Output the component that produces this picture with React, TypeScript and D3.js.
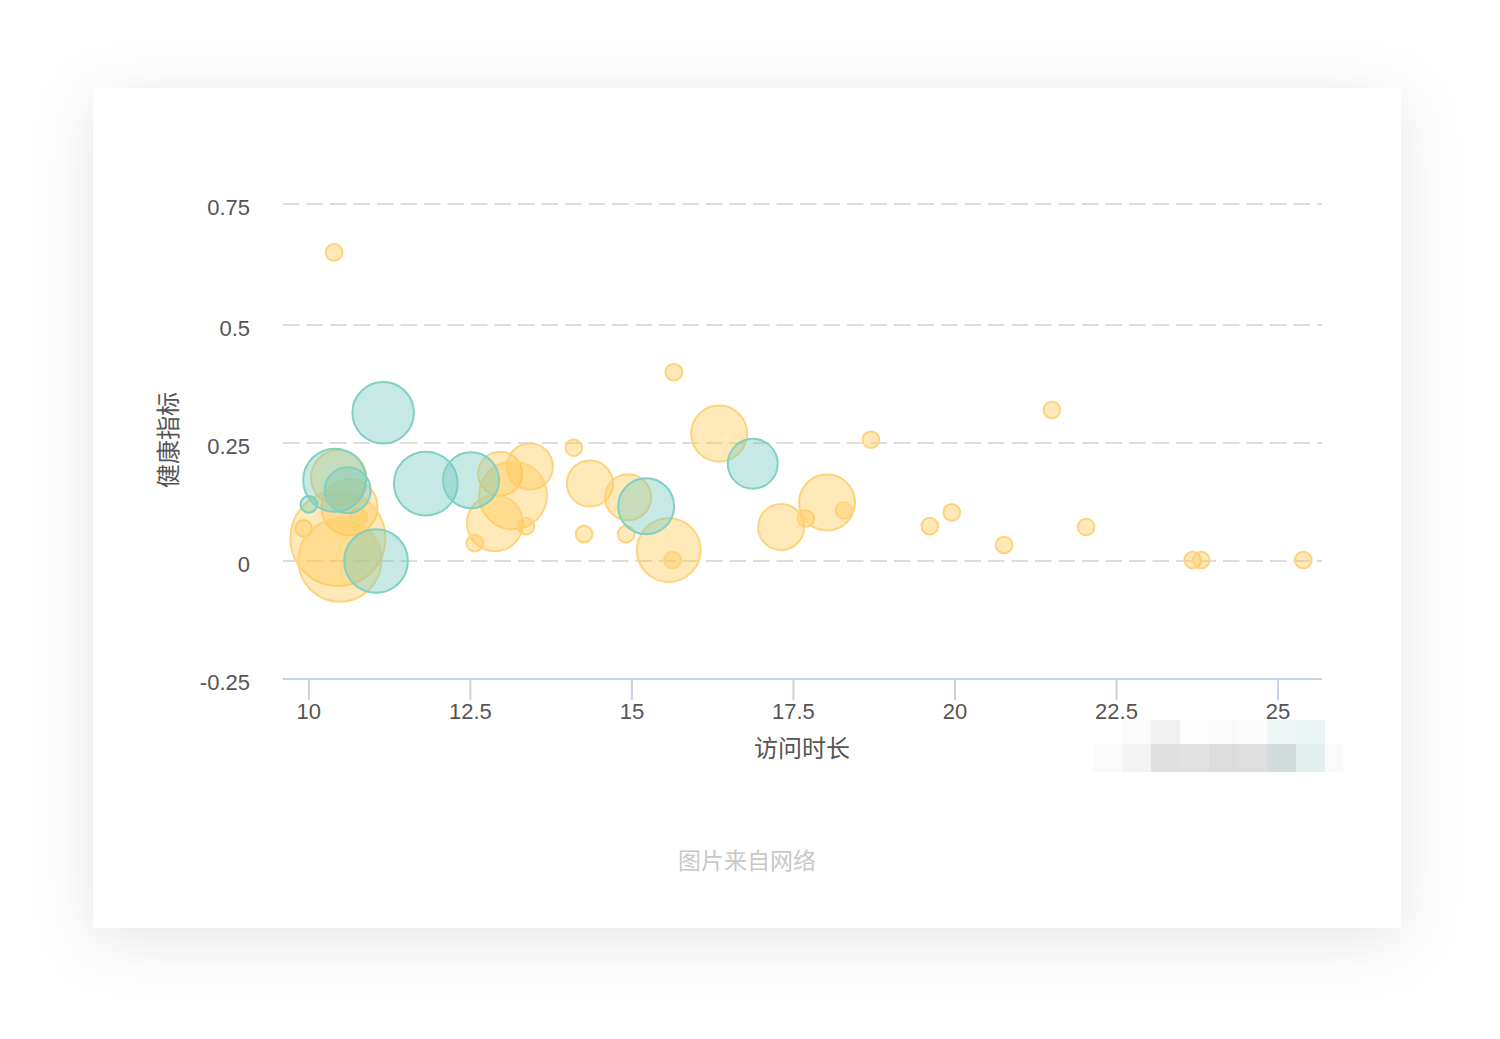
import React from 'react';
import * as d3 from 'd3';

// [访问时长, 健康指标, size]
const tealPoints: [number, number, number][] = [
  [10.0, 0.12, 3],
  [10.4, 0.171, 43],
  [10.6, 0.15, 23],
  [11.04, 0.0, 44],
  [11.15, 0.314, 41],
  [11.81, 0.164, 44],
  [12.51, 0.171, 34],
  [15.22, 0.116, 34],
  [16.87, 0.206, 27],
];

const amberPoints: [number, number, number][] = [
  [10.39, 0.65, 3],
  [10.46, 0.177, 33],
  [10.63, 0.114, 34],
  [10.77, 0.093, 3],
  [9.92, 0.069, 3],
  [10.45, 0.048, 98],
  [10.48, 0.002, 75],
  [12.96, 0.185, 21],
  [13.42, 0.2, 23],
  [13.16, 0.139, 50],
  [12.88, 0.08, 34],
  [13.36, 0.074, 3],
  [12.57, 0.038, 3],
  [14.1, 0.24, 3],
  [15.65, 0.4, 3],
  [16.35, 0.27, 34],
  [18.7, 0.257, 3],
  [14.35, 0.164, 23],
  [14.94, 0.135, 23],
  [14.26, 0.057, 3],
  [14.91, 0.057, 3],
  [15.57, 0.023, 44],
  [15.63, 0.002, 3],
  [17.31, 0.072, 23],
  [17.69, 0.09, 3],
  [18.02, 0.124, 34],
  [18.28, 0.107, 3],
  [21.5, 0.32, 3],
  [19.61, 0.074, 3],
  [19.95, 0.103, 3],
  [20.76, 0.034, 3],
  [22.03, 0.072, 3],
  [23.68, 0.002, 3],
  [23.81, 0.002, 3],
  [25.39, 0.002, 3],
];

const xTicks = [10, 12.5, 15, 17.5, 20, 22.5, 25];
const yTicks = [-0.25, 0, 0.25, 0.5, 0.75];

// pixelated patch in the lower right corner of the card
const mosaicRows = [
  ['none', '#fbfbfb', '#f1f1f1', '#fdfdfd', '#fafafa', '#fcfcfc', '#f0f7f7', '#eaf4f4', 'none'],
  ['#fafafa', '#f3f3f3', '#e0e0e0', '#e2e2e2', '#dcdcdc', '#dedede', '#d2dcdc', '#e2efee', '#fafafa'],
];

const W = 1500;
const H = 1039;
const font = '"Liberation Sans", Arial, "Noto Sans CJK SC", sans-serif';

const App: React.FC = () => {
  const x = d3.scaleLinear().domain([9.6, 25.68]).range([283, 1322]);
  const y = d3.scaleLinear().domain([-0.25, 0.5, 0.75]).range([679, 325, 204]);
  const r = d3.scaleSqrt().domain([0, 100]).range([0, 48]);

  const plotLeft = x.range()[0];
  const plotRight = x.range()[1];
  const axisY = y(-0.25);

  const bubbles = (pts: [number, number, number][], fill: string, stroke: string, key: string) =>
    pts.map((p, i) => (
      <circle
        key={`${key}-${i}`}
        cx={x(p[0])}
        cy={y(p[1])}
        r={r(p[2])}
        fill={fill}
        fillOpacity={0.4}
        stroke={stroke}
        strokeWidth={2}
      />
    ));

  return (
    <div style={{ position: 'fixed', left: 0, top: 0, width: W, height: H, background: '#fff' }}>
      <svg width={W} height={H} style={{ display: 'block' }}>
        <defs>
          <filter id="cardShadow" x="-20%" y="-20%" width="140%" height="140%">
            <feDropShadow dx="0" dy="12" stdDeviation="30" floodColor="#000" floodOpacity="0.1" />
          </filter>
        </defs>
        <rect x={93} y={88} width={1308} height={840} fill="#fff" filter="url(#cardShadow)" />

        {/* grid */}
        {yTicks.filter(t => t > -0.25).map(t => (
          <line
            key={`g${t}`}
            x1={plotLeft}
            x2={plotRight}
            y1={y(t)}
            y2={y(t)}
            stroke="#dcdcdc"
            strokeWidth={2}
            strokeDasharray="16.5,7"
          />
        ))}

        {/* y labels */}
        {yTicks.map(t => (
          <text
            key={`yl${t}`}
            x={250}
            y={y(t) + 11}
            textAnchor="end"
            fontFamily={font}
            fontSize={22}
            fill="#555"
          >
            {t}
          </text>
        ))}

        {/* x axis */}
        <line x1={plotLeft} x2={plotRight} y1={axisY} y2={axisY} stroke="#c3d3e3" strokeWidth={2} />
        {xTicks.map(t => (
          <g key={`xt${t}`}>
            <line x1={x(t)} x2={x(t)} y1={axisY} y2={axisY + 21} stroke="#c3d3e3" strokeWidth={2} />
            <text
              x={x(t)}
              y={719}
              textAnchor="middle"
              fontFamily={font}
              fontSize={22}
              fill="#555"
            >
              {t}
            </text>
          </g>
        ))}

        {/* bubbles */}
        {bubbles(amberPoints, '#ffc850', '#fed37c', 'a')}
        {bubbles(tealPoints, '#71c8be', '#80d1c5', 't')}

        {/* axis names */}
        <text x={802} y={757} textAnchor="middle" fontFamily={font} fontSize={24} fill="#555">
          访问时长
        </text>
        <text
          transform="translate(177,440) rotate(-90)"
          textAnchor="middle"
          fontFamily={font}
          fontSize={24}
          fill="#555"
        >
          健康指标
        </text>

        {/* watermark */}
        <text x={747} y={869} textAnchor="middle" fontFamily={font} fontSize={23} fill="#c8c8c8">
          图片来自网络
        </text>

        {mosaicRows.map((row, ri) =>
          row.map((c, ci) =>
            c === 'none' ? null : (
              <rect
                key={`m${ri}-${ci}`}
                x={1093 + ci * 29}
                y={720 + ri * 24}
                width={ci === row.length - 1 ? 18 : 29}
                height={24 + ri * 4}
                fill={c}
              />
            )
          )
        )}
      </svg>
    </div>
  );
};

export default App;
